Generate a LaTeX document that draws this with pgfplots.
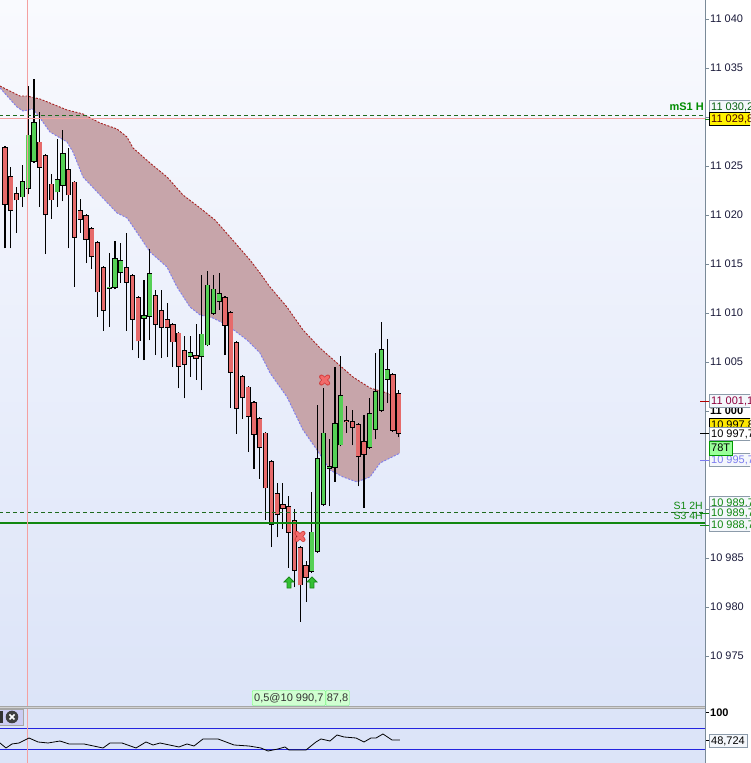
\documentclass[border=0pt]{standalone}
\usepackage{pgfplots}
\pgfplotsset{compat=1.18}
\usepackage{pgfplotstable}
\usepackage{fontspec}
\setmainfont{Liberation Sans}
\definecolor{bgtop}{HTML}{F9FAFE}
\definecolor{bgbot}{HTML}{DCE4F8}
\definecolor{bgind}{HTML}{DCE4F8}
\definecolor{axisgray}{HTML}{7A8A98}
\definecolor{tickc}{HTML}{1A1A3A}
\definecolor{cloudc}{HTML}{C7A5AA}
\definecolor{cloudup}{HTML}{A82020}
\definecolor{cloudlo}{HTML}{7C7CF0}
\definecolor{redbody}{HTML}{E66A6A}
\definecolor{greenbody}{HTML}{55D055}
\definecolor{pinkline}{HTML}{F4A0A0}
\definecolor{dgreen}{HTML}{1E6A1E}
\definecolor{sgreen}{HTML}{118811}
\definecolor{boxgray}{HTML}{8C9BAA}
\definecolor{boxfill}{HTML}{F4F7FB}
\definecolor{xdark}{HTML}{D03838}
\definecolor{xlight}{HTML}{F26A6A}
\definecolor{arrowgreen}{HTML}{33C033}
\definecolor{arrowdark}{HTML}{1A8A1A}
\definecolor{indblue}{HTML}{2424E0}

\pgfdeclareplotmark{redx}{%
  \pgfsetroundcap
  \pgfsetlinewidth{4.6pt}\pgfsetstrokecolor{xdark}%
  \pgfpathmoveto{\pgfpoint{-3.2pt}{-3.2pt}}\pgfpathlineto{\pgfpoint{3.2pt}{3.2pt}}%
  \pgfpathmoveto{\pgfpoint{-3.2pt}{3.2pt}}\pgfpathlineto{\pgfpoint{3.2pt}{-3.2pt}}%
  \pgfusepath{stroke}%
  \pgfsetlinewidth{3.2pt}\pgfsetstrokecolor{xlight}%
  \pgfpathmoveto{\pgfpoint{-3.2pt}{-3.2pt}}\pgfpathlineto{\pgfpoint{3.2pt}{3.2pt}}%
  \pgfpathmoveto{\pgfpoint{-3.2pt}{3.2pt}}\pgfpathlineto{\pgfpoint{3.2pt}{-3.2pt}}%
  \pgfusepath{stroke}}
\pgfdeclareplotmark{garrow}{%
  \pgfpathmoveto{\pgfpoint{0pt}{5.5pt}}%
  \pgfpathlineto{\pgfpoint{5pt}{0.5pt}}%
  \pgfpathlineto{\pgfpoint{2pt}{0.5pt}}%
  \pgfpathlineto{\pgfpoint{2pt}{-5.5pt}}%
  \pgfpathlineto{\pgfpoint{-2pt}{-5.5pt}}%
  \pgfpathlineto{\pgfpoint{-2pt}{0.5pt}}%
  \pgfpathlineto{\pgfpoint{-5pt}{0.5pt}}%
  \pgfpathclose
  \pgfusepath{fill,stroke}}

\pgfplotstableread{
i O H L C
0 11026.9 11027.0 11016.6 11021.0
1 11024.0 11024.9 11016.6 11020.4
2 11022.2 11022.9 11018.2 11021.5
6 11027.5 11030.5 11020.8 11024.8
7 11026.1 11026.2 11016.0 11020.0
8 11023.2 11024.2 11019.6 11021.5
11 11024.7 11026.8 11016.6 11022.0
12 11023.4 11023.5 11012.7 11017.7
13 11020.5 11021.6 11018.2 11019.5
14 11020.0 11020.1 11015.1 11017.5
15 11018.7 11018.8 11014.5 11015.7
16 11017.2 11017.3 11009.6 11012.1
17 11014.7 11014.8 11008.2 11010.2
21 11014.7 11018.2 11008.2 11013.1
22 11013.9 11014.0 11006.2 11009.3
23 11011.6 11011.7 11005.4 11007.1
26 11011.8 11012.3 11005.7 11008.8
27 11010.3 11012.3 11005.4 11008.5
28 11009.4 11011.0 11005.5 11008.5
29 11008.9 11009.0 11004.5 11007.0
30 11008.0 11008.1 11002.3 11004.5
31 11006.2 11007.7 11001.3 11004.7
33 11005.7 11008.9 11003.2 11005.3
38 11011.6 11011.7 11005.7 11008.7
39 11010.1 11010.2 11000.3 11003.9
40 11007.0 11007.1 10997.7 11000.2
41 11003.6 11003.7 10999.2 11001.3
42 11002.5 11002.6 10995.8 10999.4
43 11000.9 11001.0 10994.1 10997.6
44 10999.3 10999.4 10993.1 10996.2
45 10997.8 10997.9 10988.9 10992.1
46 10994.9 10995.0 10986.1 10988.4
47 10991.6 10992.7 10987.1 10989.4
48 10990.5 10992.7 10988.0 10990.0
49 10990.3 10991.3 10984.0 10987.6
50 10988.9 10990.0 10982.0 10983.7
51 10986.1 10986.2 10978.5 10982.2
52 10984.3 10984.7 10980.5 10983.0
59 10999.1 11000.5 10997.8 10998.9
60 10999.0 11000.1 10996.5 10998.3
61 10998.7 10998.8 10992.3 10995.3
62 10996.9 10999.6 10990.1 10995.5
67 11003.8 11003.9 10997.9 10998.0
68 11001.8 11002.1 10997.3 10997.7
}\redtab

\pgfplotstableread{
i O H L C
3 11021.8 11025.1 11020.8 11023.5
4 11022.7 11033.2 11022.1 11028.2
5 11025.4 11033.9 11025.3 11029.5
9 11022.3 11027.8 11020.8 11023.7
10 11023.0 11028.7 11021.4 11026.3
18 11012.5 11016.1 11008.6 11012.7
19 11012.6 11017.3 11012.4 11015.6
20 11014.1 11017.1 11013.1 11015.4
24 11009.4 11013.4 11005.2 11009.8
25 11009.6 11016.5 11007.2 11014.1
32 11005.5 11007.7 11003.5 11006.0
34 11005.5 11013.9 11002.1 11007.9
35 11006.7 11014.3 11006.6 11012.9
36 11009.9 11013.9 11009.8 11012.5
37 11011.1 11014.1 11010.3 11012.0
53 10983.6 10991.7 10983.5 10987.7
54 10985.6 11000.6 10985.5 10995.2
55 10990.4 11002.3 10990.3 10997.8
56 10994.1 10997.1 10990.3 10994.4
57 10994.2 11004.5 10992.8 10998.8
58 10996.5 11005.6 10996.4 11001.6
63 10996.2 11001.3 10996.1 10999.8
64 10998.1 11005.9 10997.1 11002.0
65 11000.0 11009.1 10999.9 11006.3
66 11003.2 11007.3 11000.8 11004.3
}\greentab

\pgfplotsset{candle/.style={draw=none, mark=none, error bars/.cd, y dir=plus, y explicit, error mark=none}}

\begin{document}
\begin{tikzpicture}[x=1pt,y=1pt]
\useasboundingbox (0,0) rectangle (750,763);
\clip (0,0) rectangle (750,763);
\fill[white] (0,0) rectangle (750,763);
\fill[gray!35] (0,54.5) rectangle (705,57.5);

\begin{axis}[at={(0pt,57pt)}, anchor=south west, width=705pt, height=706pt,
  scale only axis, xmin=-0.864, xmax=120.9, ymin=10969.9, ymax=11041.94,
  axis line style={draw=none}, xtick=\empty,
  ytick pos=right, yticklabel pos=right, scaled y ticks=false,
  axis background/.style={top color=bgtop, bottom color=bgbot},
  ytick={10975,10980,10985,10990,10995,11005,11010,11015,11020,11025,11030,11035,11040},
  extra y ticks={11000}, extra y tick labels={\textbf{11 000}},
  extra y tick style={yticklabel style={text=black}},
  tick align=outside, major tick length=4pt,
  tick style={axisgray, line width=0.6pt},
  yticklabel style={anchor=west, font=\fontsize{11}{12}\selectfont, text=tickc, inner sep=1pt},
  /pgf/number format/.cd, 1000 sep={\ }, assume math mode=true]

% cloud
\addplot[fill=cloudc, draw=none, forget plot] coordinates {
(-0.86,11033.16)(2.59,11032.14)(3.80,11032.14)(6.04,11031.84)(7.77,11031.43)(10.71,11030.72)(13.47,11030.31)(16.41,11029.39)(19.34,11028.78)(21.07,11027.96)(22.11,11026.84)(25.04,11025.31)(27.98,11023.88)(30.74,11022.04)(33.68,11020.72)(36.27,11019.49)(38.86,11017.76)(42.31,11015.41)(44.04,11014.08)(45.77,11012.65)(48.70,11010.61)(51.47,11008.27)(54.40,11006.43)(57.34,11004.90)(60.10,11003.47)(63.04,11002.35)(65.98,11001.84)(68.22,11001.12)
(68.22,10995.71)(66.49,10995.20)(64.77,10994.69)(63.04,10993.27)(60.79,10992.76)(58.38,10993.27)(56.13,10993.98)(53.89,10996.02)(51.47,10998.06)(48.70,11001.43)(45.77,11003.88)(44.04,11005.92)(41.80,11007.25)(38.34,11008.78)(35.92,11009.49)(33.68,11009.80)(31.95,11010.61)(29.71,11012.65)(27.98,11014.69)(25.04,11016.23)(23.32,11017.76)(21.07,11019.70)(19.34,11020.21)(16.41,11022.04)(13.47,11023.88)(11.74,11026.43)(10.71,11027.45)(7.77,11028.47)(6.04,11029.90)(4.84,11030.82)(3.11,11030.61)(2.07,11031.02)(-0.86,11032.96)} -- cycle;
\addplot[cloudup, line width=0.9pt, dash pattern=on 2pt off 1.5pt] coordinates {
(-0.86,11033.16)(2.59,11032.14)(3.80,11032.14)(6.04,11031.84)(7.77,11031.43)(10.71,11030.72)(13.47,11030.31)(16.41,11029.39)(19.34,11028.78)(21.07,11027.96)(22.11,11026.84)(25.04,11025.31)(27.98,11023.88)(30.74,11022.04)(33.68,11020.72)(36.27,11019.49)(38.86,11017.76)(42.31,11015.41)(44.04,11014.08)(45.77,11012.65)(48.70,11010.61)(51.47,11008.27)(54.40,11006.43)(57.34,11004.90)(60.10,11003.47)(63.04,11002.35)(65.98,11001.84)(68.22,11001.12)};
\addplot[cloudlo, line width=0.9pt, dash pattern=on 2pt off 1.5pt] coordinates {
(-0.86,11032.96)(2.07,11031.02)(3.11,11030.61)(4.84,11030.82)(6.04,11029.90)(7.77,11028.47)(10.71,11027.45)(11.74,11026.43)(13.47,11023.88)(16.41,11022.04)(19.34,11020.21)(21.07,11019.70)(23.32,11017.76)(25.04,11016.23)(27.98,11014.69)(29.71,11012.65)(31.95,11010.61)(33.68,11009.80)(35.92,11009.49)(38.34,11008.78)(41.80,11007.25)(44.04,11005.92)(45.77,11003.88)(48.70,11001.43)(51.47,10998.06)(53.89,10996.02)(56.13,10993.98)(58.38,10993.27)(60.79,10992.76)(63.04,10993.27)(64.77,10994.69)(66.49,10995.20)(68.22,10995.71)};

% wicks
\addplot[candle, error bar style={draw=black, line width=1.1pt}] table[x=i, y=L, y error plus expr=\thisrow{H}-\thisrow{L}] {\redtab};
\addplot[candle, error bar style={draw=black, line width=1.1pt}] table[x=i, y=L, y error plus expr=\thisrow{H}-\thisrow{L}] {\greentab};
% bodies outline
\addplot[candle, error bar style={draw=black, line width=5.2pt}] table[x=i, y=C, y error plus expr=\thisrow{O}-\thisrow{C}] {\redtab};
\addplot[candle, error bar style={draw=black, line width=5.2pt}] table[x=i, y=O, y error plus expr=\thisrow{C}-\thisrow{O}] {\greentab};
% bodies fill
\addplot[candle, error bar style={draw=redbody, line width=3.6pt}] table[x=i, y expr=\thisrow{C}+0.08, y error plus expr={max(\thisrow{O}-\thisrow{C}-0.16,0)}] {\redtab};
\addplot[candle, error bar style={draw=greenbody, line width=3.6pt}] table[x=i, y expr=\thisrow{O}+0.08, y error plus expr={max(\thisrow{C}-\thisrow{O}-0.16,0)}] {\greentab};

% horizontal levels
\addplot[dgreen, line width=0.9pt, dash pattern=on 4pt off 3pt] coordinates {(-1,11030.2)(121,11030.2)};
\addplot[pinkline, line width=1pt] coordinates {(-1,11029.8)(121,11029.8)};
\addplot[dgreen, line width=0.9pt, dash pattern=on 4pt off 3pt] coordinates {(-1,10989.6)(121,10989.6)};
\addplot[sgreen, line width=2pt] coordinates {(-1,10988.6)(121,10988.6)};
% cursor line
\addplot[pinkline, line width=1pt] coordinates {(3.97,10960)(3.97,11050)};

% markers
\addplot[only marks, mark=redx] coordinates {(55.2,11003.16)(50.95,10987.2)};
\addplot[only marks, mark=garrow, mark options={fill=arrowgreen, draw=arrowdark, line width=0.8pt}] coordinates {(49.05,10982.5)(53.02,10982.5)};
\end{axis}

\begin{axis}[at={(0pt,0pt)}, anchor=south west, width=705pt, height=55pt,
  scale only axis, xmin=-0.864, xmax=120.9, ymin=5.8, ymax=108.1,
  axis line style={draw=none}, xtick=\empty,
  ytick pos=right, yticklabel pos=right, scaled y ticks=false,
  axis background/.style={fill=bgind},
  ytick={100}, yticklabels={\textbf{100}},
  extra y ticks={48.724}, extra y tick labels={},
  tick align=outside, major tick length=4pt,
  tick style={black, line width=0.6pt},
  yticklabel style={anchor=west, font=\fontsize{11}{12}\selectfont, text=black, inner sep=1pt},
  /pgf/number format/assume math mode=true]
\addplot[indblue, line width=1pt] coordinates {(-1,70)(121,70)};
\addplot[indblue, line width=1pt] coordinates {(-1,30)(121,30)};
\addplot[pinkline, line width=1pt] coordinates {(3.97,0)(3.97,120)};
\addplot[black, line width=0.8pt] coordinates {
(-0.86,43.0)(0.17,33.7)(1.21,41.2)(2.42,43.0)(4.15,52.3)(5.70,44.9)(7.43,43.0)(9.50,46.7)(11.05,41.2)(13.64,41.2)(16.93,33.7)(18.13,43.0)(20.21,43.0)(22.63,33.7)(24.35,44.9)(25.56,39.3)(26.77,43.0)(30.05,35.6)(31.43,41.2)(32.64,37.4)(34.20,50.5)(36.79,50.5)(39.55,39.3)(42.14,37.4)(44.21,33.7)(45.42,28.1)(47.15,31.9)(48.36,35.6)(49.05,30.0)(51.99,30.0)(53.71,44.9)(54.58,50.5)(56.13,46.7)(57.34,57.9)(58.55,54.2)(60.62,52.3)(62.00,44.9)(63.21,52.3)(64.08,52.3)(65.28,59.8)(66.84,48.6)(68.22,48.7)};
\end{axis}

\draw[gray!70, line width=0.8pt] (0,57) -- (705,57);
\draw[gray!70, line width=0.8pt] (0,55) -- (705,55);
\draw[axisgray, line width=0.8pt] (705,0) -- (705,763);

\tikzset{lbl/.style={draw=boxgray, fill=boxfill, inner xsep=2pt, inner ysep=0pt, minimum height=13pt, anchor=west, font=\fontsize{11}{12}\selectfont}}
% right price boxes
\node[lbl, text=tickc!40!green!60!black] at (709,656) {11 030,2};
\draw[sgreen, line width=0.8pt] (705,644) -- (709,644);
\node[lbl, fill=yellow, draw=black, text=black!70!red] at (709,644) {11 029,8};
\draw[red!70!black, line width=0.8pt] (700,362) -- (709,362);
\node[lbl, text=red!70!blue!80!black] at (709,362) {11 001,1};
\node[lbl, fill=yellow!90!orange, draw=black] at (709,338) {10 997,8};
\draw[black, line width=1pt] (700,329) -- (709,329);
\node[lbl, fill=white, text=black] at (709,329) {10 997,7};
\draw[cloudlo, line width=0.8pt] (700,303) -- (709,303);
\node[lbl, text=cloudlo] at (709,303) {10 995,7};
\node[lbl, fill=green!40, draw=green!60!black, text=black, minimum height=14pt] at (709,315) {78T};
\node[lbl, text=sgreen] at (709,260) {10 989,7};
\draw[sgreen, line width=0.8pt] (700,250) -- (709,250);
\node[lbl, text=sgreen] at (709,250) {10 989,7};
\draw[sgreen, line width=0.8pt] (700,238) -- (709,238);
\node[lbl, text=sgreen] at (709,238) {10 988,7};
% left level tags
\node[anchor=east, inner sep=0pt, font=\bfseries\fontsize{11}{12}\selectfont, text=green!55!black] at (704,656) {mS1 H};
\node[anchor=east, inner sep=0pt, font=\fontsize{10.5}{12}\selectfont, text=sgreen] at (703,257) {S1 2H};
\node[anchor=east, inner sep=0pt, font=\fontsize{10.5}{12}\selectfont, text=sgreen] at (703,247) {S3 4H};
% bottom info box
\node[anchor=west, draw=green!60, fill=green!18, inner xsep=2pt, inner ysep=0pt, minimum height=15pt, rounded corners=1pt, font=\fontsize{11}{12}\selectfont, text=black!80] (b1) at (252,65) {0,5@10 990,7};
\node[anchor=west, draw=green!60, fill=green!18, inner xsep=1pt, inner ysep=0pt, minimum height=15pt, rounded corners=1pt, font=\fontsize{11}{12}\selectfont, text=black!80] at (b1.east) {87,8};
% indicator value box
\node[lbl, fill=boxfill] at (709,22) {48,724};
% close button
\fill[gray!40!blue!25] (-2,38) rectangle (23,54);
\draw[gray!70] (-2,38) rectangle (23,54);
\fill[black!80] (-2,40) rectangle (3,52);
\fill[black!75] (12,46) circle (6.3);
\draw[white, line width=1.5pt] (9.5,43.5) -- (14.5,48.5) (9.5,48.5) -- (14.5,43.5);
\end{tikzpicture}
\end{document}
